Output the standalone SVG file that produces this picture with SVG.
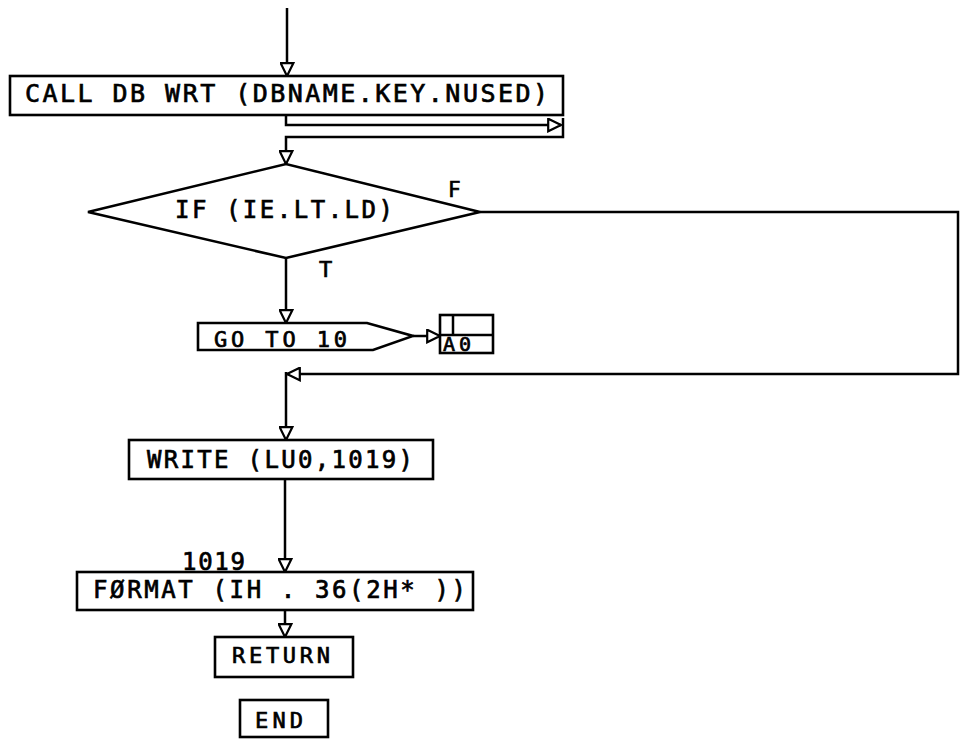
<svg xmlns="http://www.w3.org/2000/svg" width="962" height="747" viewBox="0 0 962 747">
<style>
.box{fill:#fff;stroke:#000;stroke-width:2.6}
.ln{fill:none;stroke:#000;stroke-width:2.5}
.t{font-family:"DejaVu Sans Mono","Liberation Mono",monospace;fill:#000;stroke:#000;stroke-width:0.7}
</style>
<defs>
<marker id="ah" viewBox="0 0 15 15" refX="14" refY="7.5" markerWidth="15" markerHeight="15" markerUnits="userSpaceOnUse" orient="auto">
<path d="M1.2,1.2 L14,7.5 L1.2,13.8 Z" fill="#fff" stroke="#000" stroke-width="2.2"/>
</marker>
</defs>
<rect width="962" height="747" fill="#fff"/>
<g id="connectors">
<path class="ln" d="M287,8 V76" stroke-width="3.2" marker-end="url(#ah)"/>
<path class="ln" d="M286,115 V125 H561" marker-end="url(#ah)"/>
<path class="ln" d="M563,118 V137 H286 V164" marker-end="url(#ah)"/>
<path class="ln" d="M286,258 V323" stroke-width="3.2" marker-end="url(#ah)"/>
<path class="ln" d="M413,336 H440" marker-end="url(#ah)"/>
<path class="ln" d="M480,212 H958 V374 H287" marker-end="url(#ah)"/>
<path class="ln" d="M286,372 V440" stroke-width="2.8" marker-end="url(#ah)"/>
<path class="ln" d="M285,479 V572" stroke-width="3" marker-end="url(#ah)"/>
<path class="ln" d="M285,610 V637" marker-end="url(#ah)"/>
</g>
<g id="call">
<rect class="box" x="10" y="76" width="553" height="39"/>
<text class="t" x="25" y="102" font-size="25" textLength="523" lengthAdjust="spacing">CALL DB WRT (DBNAME.KEY.NUSED)</text>
</g>
<g id="decision">
<polygon class="box" points="88,212 286,164 480,212 286,258"/>
<text class="t" x="175" y="218" font-size="24" textLength="218" lengthAdjust="spacing">IF (IE.LT.LD)</text>
<text class="t" x="448" y="197" font-size="21">F</text>
<text class="t" x="319" y="277" font-size="22">T</text>
</g>
<g id="goto">
<path class="box" d="M198,323 H367 L413,336 L373,350 H198 Z"/>
<text class="t" x="214" y="347" font-size="22" textLength="133" lengthAdjust="spacing">GO TO 10</text>
</g>
<g id="connector10">
<rect class="box" x="440" y="315" width="53" height="38"/>
<path class="ln" d="M440,335 H493 M453,315 V336"/>
<text class="t" x="443" y="351" font-size="20" textLength="28" lengthAdjust="spacing">A0</text>
</g>
<g id="write">
<rect class="box" x="129" y="440" width="304" height="39"/>
<text class="t" x="147" y="468" font-size="24" textLength="266" lengthAdjust="spacing">WRITE (LU0,1019)</text>
</g>
<g id="format">
<text class="t" x="182" y="570" font-size="24" textLength="63" lengthAdjust="spacing">1019</text>
<rect class="box" x="77" y="572" width="396" height="38"/>
<text class="t" x="93" y="598" font-size="24" textLength="373" lengthAdjust="spacing">FØRMAT (IH . 36(2H* ))</text>
</g>
<g id="return">
<rect class="box" x="215" y="637" width="138" height="40"/>
<text class="t" x="232" y="663" font-size="22" textLength="98" lengthAdjust="spacing">RETURN</text>
</g>
<g id="end">
<rect class="box" x="240" y="700" width="88" height="37"/>
<text class="t" x="255" y="728" font-size="22" textLength="48" lengthAdjust="spacing">END</text>
</g>
</svg>
